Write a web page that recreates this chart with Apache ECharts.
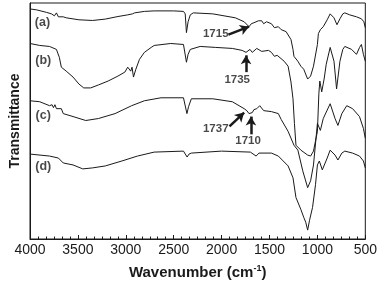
<!DOCTYPE html>
<html>
<head>
<meta charset="utf-8">
<script src="https://cdn.jsdelivr.net/npm/echarts@6/dist/echarts.min.js"></script>
<style>
html,body{margin:0;padding:0;background:#fff;}
#chart{width:380px;height:285px;}
</style>
</head>
<body>
<div id="chart"></div>
<script>
// Wavenumber ticks
const xTicks = [4000, 3500, 3000, 2500, 2000, 1500, 1000, 500];

// Curve (a)
const waveA = [4000,3929,3827,3776,3760,3745,3724,3704,3690,3653,3622,3490,3347,3214,3082,2980,2930,2908,2806,2704,2500,2398,2380,2367,2350,2327,2296,2092,1857,1765,1714,1690,1663,1645,1615,1602,1582,1561,1531,1480,1449,1408,1378,1327,1276,1255,1245,1204,1173,1143,1102,1071,1041,1000,990,969,939,898,867,847,827,796,765,735,714,663,592,541,515,500];
const transA = [233,232,229.5,228,230,226,229,225,227,225,224,222,221.3,222.7,225.3,227,228,229,230.5,231,231,230.5,228,209,220,227,229,228,224,220,215,218,219,217,221,220,221,218,220,218,214,215,212,210,202,192,185,180,175,172,162,165,175,197,208,212,215,222,228,229,224,217,223,228,229,227,225,223,220,214];

// Curve (b)
const waveB = [4000,3898,3796,3724,3694,3673,3622,3551,3490,3439,3367,3286,3184,3082,3010,2980,2960,2949,2935,2920,2895,2878,2857,2806,2735,2704,2531,2398,2380,2367,2350,2327,2224,2061,1888,1786,1745,1735,1725,1704,1680,1633,1582,1510,1480,1449,1420,1347,1306,1276,1255,1240,1224,1173,1102,1071,1041,1000,985,975,955,930,908,867,847,827,800,786,765,735,714,694,643,592,560,541,520,500];
const transB = [198,196,195,192,184,174,170,164,157,153,153,156,160,165,169,174,172,170,174,164,172,174,182,189,194,196,198,197,195,179,187,192,195,194,193,191,189,187,190,192,189,193,190,191,189,185,186,180,175,159,142,117,95,90,85,84,89,109,147,160,149,162,177,194,195,180,152,154,180,192,195,195,192,187,194,197,187,180];

// Curve (c)
const waveC = [4000,3898,3796,3770,3755,3740,3724,3704,3673,3653,3551,3418,3286,3112,2939,2806,2633,2398,2380,2362,2345,2316,2092,1888,1765,1737,1714,1700,1680,1663,1633,1602,1561,1480,1408,1378,1306,1245,1204,1153,1102,1071,1041,1000,969,939,867,816,786,745,694,633,561,520,500];
const transC = [140,139,135,136,133,136,132,134,132,127,124,120,122,127,135,140,143,143,141,127,134,142,142,139,132,130,127,129,128,131,132,135,130,129,127,121,109,95,90,69,52,59,75,117,110,122,137,122,115,127,135,132,124,112,102];

// Curve (d)
const waveD = [4000,3796,3704,3653,3551,3449,3347,3214,3041,2878,2704,2398,2380,2360,2340,2316,2000,1700,1640,1610,1480,1408,1357,1306,1255,1224,1173,1143,1122,1102,1082,1051,1020,1000,980,949,898,867,816,786,745,714,633,561,520,500];
const transD = [86,84,82,77,75,71,72,74,79,84,88,89,88,83,86,87,89,88,84,87,87,84,79,74,62,42,30,22,17,9,19,32,55,75,79,70,82,90,85,80,87,89,87,84,79,72];

// Curve labels and peak labels
const curveLabels = ['(a)', '(b)', '(c)', '(d)'];
const peakLabels = ['1715', '1735', '1737', '1710'];

const FONT = "'Liberation Sans', Arial, sans-serif";
const INK = '#1a1a1a';

function pairs(w, t) { return w.map((v, i) => [v, t[i]]); }

function curve(name, w, t) {
  return {
    name: name, type: 'line', data: pairs(w, t),
    showSymbol: false, symbol: 'none', silent: true,
    lineStyle: { color: INK, width: 1 }
  };
}

// annotation placement (data coordinates: wavenumber, transmittance units)
const curveLabelPos = [[3870, 219], [3862, 181], [3862, 125], [3862, 73]];
const peakLabelPos = [[2061, 208], [1837, 161], [2061, 112], [1724, 99]];
const arrows = [
  [[1929, 207], [1714, 215]],
  [[1745, 169], [1745, 186]],
  [[1918, 114], [1765, 128]],
  [[1694, 106], [1694, 124]]
];

const chart = echarts.init(document.getElementById('chart'), null, { renderer: 'canvas' });

const labelStyle = (size) => ({ fontFamily: FONT, fontSize: size, fontWeight: 'bold', color: INK });

const option = {
  animation: false,
  backgroundColor: '#fff',
  grid: { left: 23, right: 14, top: 3, bottom: 43, show: true, borderColor: INK, borderWidth: 1 },
  xAxis: {
    type: 'value', inverse: true, min: 500, max: 4000, interval: 500,
    name: 'Wavenumber (cm{sup|-1})',
    nameLocation: 'middle', nameGap: 25,
    nameTextStyle: {
      fontFamily: FONT, fontSize: 15, fontWeight: 'bold', color: INK,
      rich: { sup: { fontFamily: FONT, fontSize: 9, fontWeight: 'bold', color: INK, verticalAlign: 'top', padding: [0, 0, 8, 0] } }
    },
    axisLine: { show: true, lineStyle: { color: INK, width: 1 } },
    axisTick: { show: true, inside: true, length: 4, lineStyle: { color: INK } },
    minorTick: { show: true, splitNumber: 6, length: 2.5, lineStyle: { color: INK } },
    axisLabel: { fontFamily: FONT, fontSize: 14, color: INK, margin: 4,
      formatter: v => (xTicks.indexOf(v) >= 0 ? String(v) : '') },
    splitLine: { show: false }
  },
  yAxis: {
    type: 'value', min: 0, max: 239,
    name: 'Transmittance', nameLocation: 'middle', nameGap: 8, nameRotate: 90,
    nameTextStyle: { fontFamily: FONT, fontSize: 14, fontWeight: 'bold', color: INK },
    axisLine: { show: true, lineStyle: { color: INK, width: 1 } },
    axisTick: { show: false }, axisLabel: { show: false }, splitLine: { show: false }
  },
  series: [
    curve('a', waveA, transA),
    curve('b', waveB, transB),
    curve('c', waveC, transC),
    curve('d', waveD, transD),
    {
      type: 'scatter', silent: true, symbolSize: 0,
      data: curveLabelPos.map((p, i) => [p[0], p[1], curveLabels[i]]),
      label: Object.assign({ show: true, position: 'inside', formatter: p => p.data[2] }, labelStyle(12.5))
    },
    {
      type: 'scatter', silent: true, symbolSize: 0,
      data: peakLabelPos.map((p, i) => [p[0], p[1], peakLabels[i]]),
      label: Object.assign({ show: true, position: 'inside', formatter: p => p.data[2] }, labelStyle(11.5)),
      markLine: {
        silent: true, symbol: ['none', 'arrow'], symbolSize: [8, 9],
        lineStyle: { color: INK, width: 2.5, type: 'solid' },
        label: { show: false },
        data: arrows.map(a => [{ coord: a[0] }, { coord: a[1] }])
      }
    }
  ]
};
chart.setOption(option);
</script>
</body>
</html>
